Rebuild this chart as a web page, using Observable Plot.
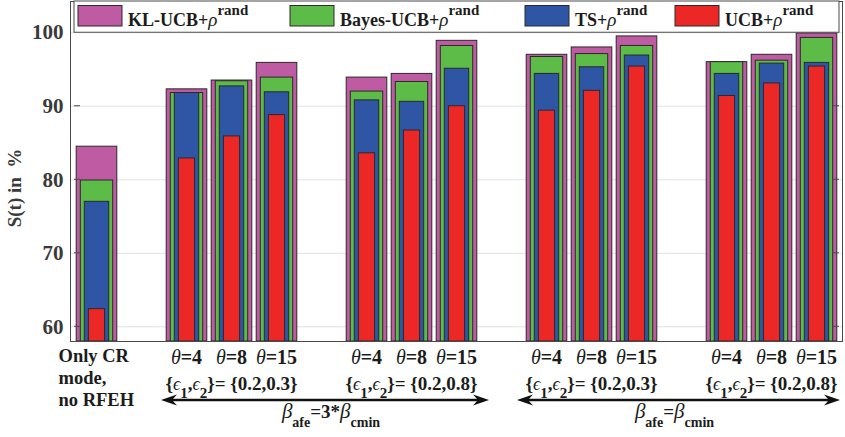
<!DOCTYPE html>
<html>
<head>
<meta charset="utf-8">
<script src="https://cdn.jsdelivr.net/npm/d3@7"></script>
<script src="https://cdn.jsdelivr.net/npm/@observablehq/plot@0.6"></script>
<style>
  html, body { margin: 0; padding: 0; background: #fff; }
  #chart svg { display: block; }
</style>
</head>
<body>
<div id="chart"></div>
<script>
// Configurations: the "only CR" baseline, then four (beta, epsilon) settings at theta = 4, 8, 15
const configs = ["CR", "A4", "A8", "A15", "B4", "B8", "B15", "C4", "C8", "C15", "D4", "D8", "D15"];
const thetas  = ["",   "4",  "8",  "15",  "4",  "8",  "15",  "4",  "8",  "15",  "4",  "8",  "15"];
// x slots, with empty spacers between the groups
const slots = ["CR", "gap1", "A4", "A8", "A15", "gap2", "B4", "B8", "B15", "gap3", "C4", "C8", "C15", "gap4", "D4", "D8", "D15"];

// S(t) in % for each policy
const seriesNames  = ["KL-UCB", "Bayes-UCB", "TS", "UCB"];
const seriesColors = ["#BE5BA2", "#5DBB47", "#2F55A5", "#EC2826"];
const klUcb    = [84.5, 92.3, 93.5, 95.9, 93.9, 94.4, 98.9, 97.0, 98.0, 99.5, 96.0, 97.0, 99.9];
const bayesUcb = [79.9, 91.8, 93.4, 93.9, 92.0, 93.3, 98.2, 96.7, 97.1, 98.2, 96.0, 96.2, 99.3];
const ts       = [77.0, 91.8, 92.7, 91.9, 90.8, 90.6, 95.1, 94.4, 95.3, 96.9, 94.4, 95.8, 95.9];
const ucb      = [62.4, 82.9, 85.9, 88.8, 83.6, 86.7, 90.0, 89.4, 92.1, 95.4, 91.4, 93.1, 95.4];

// group annotations
const epsGroups  = ["A8", "B8", "C8", "D8"];
const epsPairs   = ["{0.2,0.3}", "{0.2,0.8}", "{0.2,0.3}", "{0.2,0.8}"];
const betaFactor = ["3*", ""];
const yTicks = [60, 70, 80, 90, 100];

const yDomain = [58, 104.25];
const barInsets = [2.2, 6.3, 10.3, 14.4];
const serif = "'Liberation Serif', 'Times New Roman', serif";
const ink = "#1c1c1c";

const allValues = [klUcb, bayesUcb, ts, ucb];
const rows = configs.flatMap((c, i) =>
  seriesNames.map((s, k) => ({config: c, series: s, value: allValues[k][i]})));

const plot = Plot.plot({
  width: 845,
  height: 437,
  marginLeft: 70,
  marginRight: 3,
  marginTop: 1,
  marginBottom: 96,
  style: {fontFamily: serif, background: "#fff"},
  x: {domain: slots, padding: 0, axis: null},
  y: {domain: yDomain},
  marks: [
    Plot.gridY(yTicks, {stroke: "#e2e2e2", strokeOpacity: 1, strokeWidth: 1}),
    ...seriesNames.map((s, k) => Plot.barY(rows.filter(d => d.series === s), {
      x: "config",
      y1: () => yDomain[0],
      y2: "value",
      fill: seriesColors[k],
      stroke: "#2a2a2a",
      strokeWidth: 1,
      insetLeft: barInsets[k],
      insetRight: barInsets[k]
    })),
    Plot.axisY(yTicks, {
      tickSize: 0, tickPadding: 7, label: null,
      fontSize: 21, fontWeight: "bold", fill: "#3a3a3a"
    }),
    Plot.frame({stroke: "#4a4a4a", strokeWidth: 1})
  ]
});

document.getElementById("chart").append(plot);

// ---- decorations drawn with the plot's own scales ----
const svg = d3.select(plot);
const xs = plot.scale("x");
const ys = plot.scale("y");
const bw = xs.bandwidth;
const frameLeft = xs.apply(slots[0]);
const frameRight = xs.apply(slots[slots.length - 1]) + bw;
const cx = key => xs.apply(key) + bw / 2;

// rich text: parts = [{t, i (italic), b (bold), s (size), sh (baseline shift, + = down)}]
function rich(g, x, y, anchor, parts, fill = ink) {
  const text = g.append("text")
    .attr("x", x).attr("y", y)
    .attr("text-anchor", anchor)
    .attr("font-family", serif)
    .attr("fill", fill);
  let cur = 0;
  for (const p of parts) {
    const target = p.sh || 0;
    text.append("tspan")
      .attr("dy", target - cur)
      .attr("font-size", p.s || 18)
      .attr("font-style", p.i ? "italic" : "normal")
      .attr("font-weight", p.b === false ? "normal" : "bold")
      .text(p.t);
    cur = target;
  }
  return text;
}

// inner tick marks on both sides
const ticksG = svg.append("g").attr("stroke", "#4a4a4a");
for (const v of yTicks.slice(0, -1)) {
  ticksG.append("line").attr("x1", frameLeft).attr("x2", frameLeft + 6).attr("y1", ys.apply(v)).attr("y2", ys.apply(v));
  ticksG.append("line").attr("x1", frameRight - 6).attr("x2", frameRight).attr("y1", ys.apply(v)).attr("y2", ys.apply(v));
}

// legend box at the top of the axes
const leg = svg.append("g");
const legTop = 1;
const legBottom = ys.apply(100);
leg.append("rect")
  .attr("x", frameLeft).attr("y", legTop)
  .attr("width", frameRight - frameLeft).attr("height", legBottom - legTop)
  .attr("fill", "#fff").attr("stroke", "#4a4a4a");
const legX = [78, 290, 525, 675];
seriesNames.forEach((s, k) => {
  leg.append("rect")
    .attr("x", legX[k]).attr("y", 5.5).attr("width", 44).attr("height", 20.5)
    .attr("fill", seriesColors[k]).attr("stroke", "#2a2a2a");
  rich(leg, legX[k] + 50, 26, "start", [
    {t: s + "+", s: 18},
    {t: "\u03C1", i: true, b: false, s: 19},
    {t: "rand", s: 15, sh: -11}
  ]);
});

// y-axis title
svg.append("text")
  .attr("transform", `translate(21, 188) rotate(-90)`)
  .attr("text-anchor", "middle")
  .attr("font-family", serif).attr("font-weight", "bold").attr("font-size", 19)
  .attr("fill", "#3a3a3a")
  .text("S(t) in  %");

// category labels
const lab = svg.append("g");
["Only CR", "mode,", "no RFEH"].forEach((t, i) => {
  rich(lab, cx("CR") - 38, 362 + i * 22, "start", [{t, s: 18.5}]);
});
configs.forEach((c, i) => {
  if (!thetas[i]) return;
  rich(lab, cx(c), 364, "middle", [
    {t: "\u03B8", i: true, b: false, s: 20},
    {t: "=" + thetas[i], s: 20}
  ]);
});
epsGroups.forEach((g, i) => {
  rich(lab, cx(g), 390, "middle", [
    {t: "{", s: 19},
    {t: "\u03F5", i: true, b: false, s: 18},
    {t: "1", s: 15, sh: 8},
    {t: ",", s: 19},
    {t: "\u03F5", i: true, b: false, s: 18},
    {t: "2", s: 15, sh: 8},
    {t: "}= " + epsPairs[i], s: 19}
  ]);
});

// double-headed arrows spanning each beta setting
function arrow(g, x1, x2, y) {
  g.append("line").attr("x1", x1 + 8).attr("x2", x2 - 8).attr("y1", y).attr("y2", y)
    .attr("stroke", "#111").attr("stroke-width", 2.6);
  const head = (tip, dir) => {
    const L = 16, H = 5.5, N = 11;
    return `M${tip},${y} L${tip + dir * L},${y - H} L${tip + dir * N},${y} L${tip + dir * L},${y + H} Z`;
  };
  g.append("path").attr("d", head(x1, 1)).attr("fill", "#111");
  g.append("path").attr("d", head(x2, -1)).attr("fill", "#111");
}
const arr = svg.append("g");
const spans = [
  [xs.apply("A4") - 3, xs.apply("B15") + bw + 10],
  [xs.apply("C4") - 7, xs.apply("D15") + bw + 1]
];
spans.forEach(([a, b], i) => {
  arrow(arr, a, b, 400);
  rich(arr, (a + b) / 2 + (i === 0 ? 6 : -4), 418, "middle", [
    {t: "\u03B2", i: true, b: false, s: 21},
    {t: "afe", s: 14, sh: 9},
    {t: "=" + betaFactor[i], s: 19, sh: 0},
    {t: "\u03B2", i: true, b: false, s: 21},
    {t: "cmin", s: 14, sh: 9}
  ]);
});
</script>
</body>
</html>
